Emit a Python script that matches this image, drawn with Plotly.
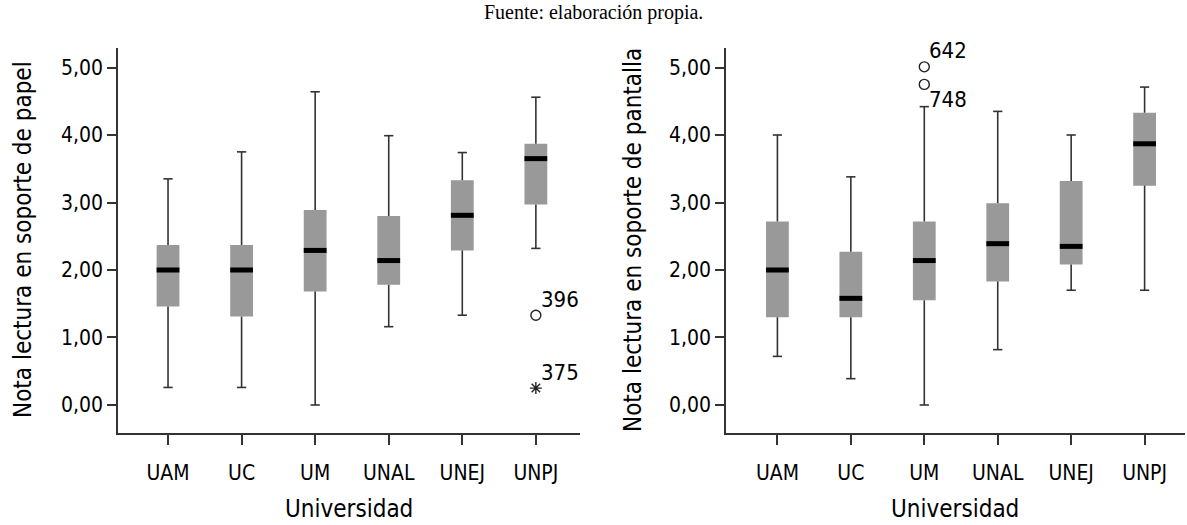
import plotly.graph_objects as go

# ---------------- data ----------------
categories = ["UAM", "UC", "UM", "UNAL", "UNEJ", "UNPJ"]

papel_lower = [0.26, 0.26, 0.00, 1.16, 1.33, 2.32]
papel_q1 = [1.46, 1.31, 1.68, 1.78, 2.29, 2.97]
papel_median = [2.00, 2.00, 2.29, 2.14, 2.81, 3.65]
papel_q3 = [2.37, 2.37, 2.89, 2.80, 3.33, 3.87]
papel_upper = [3.35, 3.75, 4.64, 3.99, 3.74, 4.56]
papel_out_cat = ["UNPJ", "UNPJ"]
papel_out_val = [1.33, 0.25]
papel_out_id = ["396", "375"]
papel_out_kind = ["outlier", "extreme"]

pantalla_lower = [0.72, 0.39, 0.00, 0.82, 1.70, 1.70]
pantalla_q1 = [1.30, 1.30, 1.55, 1.83, 2.08, 3.25]
pantalla_median = [2.00, 1.58, 2.14, 2.39, 2.35, 3.87]
pantalla_q3 = [2.72, 2.27, 2.72, 2.99, 3.32, 4.33]
pantalla_upper = [4.00, 3.38, 4.42, 4.35, 4.00, 4.71]
pantalla_out_cat = ["UM", "UM"]
pantalla_out_val = [5.01, 4.75]
pantalla_out_id = ["642", "748"]
pantalla_out_kind = ["outlier", "outlier"]

y_tick_vals = [0, 1, 2, 3, 4, 5]
y_tick_text = ["0,00", "1,00", "2,00", "3,00", "4,00", "5,00"]

caption = "Fuente: elaboración propia."
x_title = "Universidad"
y_title_left = "Nota lectura en soporte de papel"
y_title_right = "Nota lectura en soporte de pantalla"

# ---------------- style ----------------
FONT = "DejaVu Sans Condensed, DejaVu Sans, sans-serif"
TXT = "#000000"
AX_COLOR = "#333333"
BOX_COLOR = "#999999"
BOX_W = 0.31
CAP_HALF = 0.063
LABEL_BELOW = {"748"}
NBSP = "\u00a0"

fig = go.Figure()


def add_panel(xa, ya, lower, q1, med, q3, upper, out_cat, out_val, out_id, out_kind):
    pos = list(range(len(categories)))
    # boxes
    fig.add_trace(go.Bar(
        x=pos, base=q1, y=[b - a for a, b in zip(q1, q3)], width=BOX_W,
        marker=dict(color=BOX_COLOR, line=dict(width=0)),
        xaxis=xa, yaxis=ya, hoverinfo="skip", showlegend=False))
    # whiskers and caps
    wx, wy = [], []
    for p, lo, a, b, hi in zip(pos, lower, q1, q3, upper):
        wx += [p, p, None, p, p, None, p - CAP_HALF, p + CAP_HALF, None, p - CAP_HALF, p + CAP_HALF, None]
        wy += [b, hi, None, a, lo, None, hi, hi, None, lo, lo, None]
    fig.add_trace(go.Scatter(
        x=wx, y=wy, mode="lines", line=dict(color=AX_COLOR, width=1.6),
        xaxis=xa, yaxis=ya, hoverinfo="skip", showlegend=False))
    # medians
    mx, my = [], []
    for p, m in zip(pos, med):
        mx += [p - BOX_W / 2, p + BOX_W / 2, None]
        my += [m, m, None]
    fig.add_trace(go.Scatter(
        x=mx, y=my, mode="lines", line=dict(color="black", width=5),
        xaxis=xa, yaxis=ya, hoverinfo="skip", showlegend=False))
    # outliers
    ox = [categories.index(c) for c in out_cat]
    symbols = ["circle-open" if k == "outlier" else "asterisk-open" for k in out_kind]
    fig.add_trace(go.Scatter(
        x=ox, y=out_val, mode="markers",
        marker=dict(symbol=symbols, size=10, color="#222222", line=dict(width=1.4, color="#222222")),
        xaxis=xa, yaxis=ya, hoverinfo="skip", showlegend=False))
    for x, v, t in zip(ox, out_val, out_id):
        below = t in LABEL_BELOW
        fig.add_annotation(
            x=x, y=v, xref=xa, yref=ya, text=t, showarrow=False,
            xanchor="left", yanchor="middle", xshift=3, yshift=-15 if below else 16,
            font=dict(family=FONT, size=22, color=TXT))


add_panel("x", "y", papel_lower, papel_q1, papel_median, papel_q3, papel_upper,
          papel_out_cat, papel_out_val, papel_out_id, papel_out_kind)
add_panel("x2", "y2", pantalla_lower, pantalla_q1, pantalla_median, pantalla_q3, pantalla_upper,
          pantalla_out_cat, pantalla_out_val, pantalla_out_id, pantalla_out_kind)

W, H = 1187, 525
y_dom = [1 - 433 / H, 1 - 48 / H]
y_rng = [-0.415, 5.289]

common_x = dict(
    tickmode="array", tickvals=list(range(len(categories))), ticktext=categories,
    showline=True, linecolor=AX_COLOR, linewidth=1.5, ticks="outside", ticklen=10,
    tickwidth=1.5, tickcolor=AX_COLOR, showgrid=False, zeroline=False,
    tickfont=dict(family=FONT, size=21, color=TXT), ticklabelstandoff=10,
    fixedrange=True)
common_y = dict(
    tickmode="array", tickvals=y_tick_vals, ticktext=y_tick_text, range=y_rng,
    showline=True, linecolor=AX_COLOR, linewidth=1.5, ticks="outside", ticklen=9,
    tickwidth=1.5, tickcolor=AX_COLOR, showgrid=False, zeroline=False,
    tickfont=dict(family=FONT, size=21, color=TXT), ticksuffix=NBSP * 2,
    domain=y_dom, fixedrange=True)

fig.update_layout(
    width=W, height=H, margin=dict(l=0, r=0, t=0, b=0),
    paper_bgcolor="white", plot_bgcolor="white", showlegend=False,
    xaxis=dict(common_x, domain=[118 / W, 580 / W], range=[-0.68, 5.6], anchor="y"),
    yaxis=dict(common_y, anchor="x"),
    xaxis2=dict(common_x, domain=[726 / W, 1185 / W], range=[-0.70, 5.55], anchor="y2"),
    yaxis2=dict(common_y, anchor="x2"),
)

title_font = dict(family=FONT, size=24, color=TXT)
fig.add_annotation(x=0.5, y=1 - 12 / H, xref="paper", yref="paper", text=caption, showarrow=False,
                   xanchor="center", yanchor="middle",
                   font=dict(family="Liberation Serif, Times New Roman, serif", size=20, color=TXT))
fig.add_annotation(x=349 / W, y=1 - 509 / H, xref="paper", yref="paper", text=x_title, showarrow=False,
                   xanchor="center", yanchor="middle", font=title_font)
fig.add_annotation(x=955 / W, y=1 - 509 / H, xref="paper", yref="paper", text=x_title, showarrow=False,
                   xanchor="center", yanchor="middle", font=title_font)
fig.add_annotation(x=23 / W, y=1 - 240 / H, xref="paper", yref="paper", text=y_title_left, showarrow=False,
                   xanchor="center", yanchor="middle", textangle=-90, font=title_font)
fig.add_annotation(x=633 / W, y=1 - 240 / H, xref="paper", yref="paper", text=y_title_right, showarrow=False,
                   xanchor="center", yanchor="middle", textangle=-90, font=title_font)

fig.write_html("out.html", config={"displayModeBar": False},
               post_script="document.body.style.margin='0';document.body.style.overflow='hidden';")
